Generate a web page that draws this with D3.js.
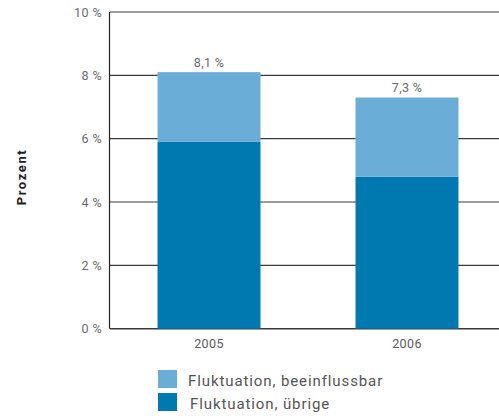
<!DOCTYPE html>
<html>
<head>
<meta charset="utf-8">
<script src="https://cdn.jsdelivr.net/npm/d3@7"></script>
<style>
  body { margin: 0; background: #fff; }
  text { font-family: Roboto, "DejaVu Sans", sans-serif; }
</style>
</head>
<body>
<script>
// data
var years = ["2005", "2006"];
var uebrige = [5.9, 4.8];
var beeinflussbar = [2.2, 2.5];
var totalLabels = ["8,1 %", "7,3 %"];
var yTicks = [0, 2, 4, 6, 8, 10];
var seriesNames = ["Fluktuation, beeinflussbar", "Fluktuation, übrige"];
var colors = ["#6aadd6", "#0079b1"];

var width = 499;
var height = 418;

var svg = d3.select("body")
            .append("svg")
            .attr("width", width)
            .attr("height", height);

var xScale = d3.scaleBand()
               .domain(years)
               .range([110, 506])
               .paddingInner(0.48)
               .paddingOuter(0.24);

var yScale = d3.scaleLinear()
               .domain([0, 10])
               .range([328.7, 12]);

// gridlines
svg.selectAll(".grid")
   .data(yTicks)
   .enter()
   .append("line")
   .attr("class", "grid")
   .attr("x1", 110)
   .attr("x2", width)
   .attr("y1", function(d) { return yScale(d); })
   .attr("y2", function(d) { return yScale(d); })
   .attr("stroke", "#3a3a3a")
   .attr("stroke-width", function(d) { return d === 0 ? 1.6 : 1.2; });

// y axis line
svg.append("line")
   .attr("x1", 109.5)
   .attr("x2", 109.5)
   .attr("y1", yScale(10))
   .attr("y2", yScale(0))
   .attr("stroke", "#222")
   .attr("stroke-width", 1.2);

// stacked bars
var stack = years.map(function(y, i) {
  return {year: y, low: uebrige[i], high: uebrige[i] + beeinflussbar[i], label: totalLabels[i]};
});

svg.selectAll(".bar-low")
   .data(stack)
   .enter()
   .append("rect")
   .attr("x", function(d) { return xScale(d.year); })
   .attr("width", xScale.bandwidth())
   .attr("y", function(d) { return yScale(d.low); })
   .attr("height", function(d) { return yScale(0) - yScale(d.low); })
   .attr("fill", colors[1]);

svg.selectAll(".bar-high")
   .data(stack)
   .enter()
   .append("rect")
   .attr("x", function(d) { return xScale(d.year); })
   .attr("width", xScale.bandwidth())
   .attr("y", function(d) { return yScale(d.high); })
   .attr("height", function(d) { return yScale(d.low) - yScale(d.high); })
   .attr("fill", colors[0]);

// value labels
svg.selectAll(".val")
   .data(stack)
   .enter()
   .append("text")
   .attr("x", function(d) { return xScale(d.year) + xScale.bandwidth() / 2; })
   .attr("y", function(d) { return yScale(d.high) - 5.5; })
   .attr("text-anchor", "middle")
   .attr("font-size", 12.5)
   .attr("letter-spacing", 0.3)
   .attr("fill", "#6a6a6a")
   .text(function(d) { return d.label; });

// y tick labels
svg.selectAll(".ytick")
   .data(yTicks)
   .enter()
   .append("text")
   .attr("x", 102)
   .attr("y", function(d) { return yScale(d) + 4.5; })
   .attr("text-anchor", "end")
   .attr("font-size", 12.5)
   .attr("letter-spacing", 0.4)
   .attr("fill", "#6a6a6a")
   .text(function(d) { return d + " %"; });

// x labels
svg.selectAll(".xtick")
   .data(years)
   .enter()
   .append("text")
   .attr("x", function(d) { return xScale(d) + xScale.bandwidth() / 2; })
   .attr("y", 348)
   .attr("text-anchor", "middle")
   .attr("font-size", 12.5)
   .attr("letter-spacing", 0.4)
   .attr("fill", "#5a5a5a")
   .text(function(d) { return d; });

// y axis title
svg.append("text")
   .attr("text-anchor", "middle")
   .attr("transform", "translate(26,177) rotate(-90)")
   .attr("font-size", 13)
   .attr("font-weight", "bold")
   .attr("letter-spacing", 1.6)
   .attr("fill", "#222")
   .text("Prozent");

// legend
var legend = svg.selectAll(".legend")
                .data(seriesNames)
                .enter()
                .append("g")
                .attr("class", "legend")
                .attr("transform", function(d, i) { return "translate(158," + (370 + i * 23) + ")"; });

legend.append("rect")
      .attr("width", 19)
      .attr("height", 18)
      .attr("fill", function(d, i) { return colors[i]; });

legend.append("text")
      .attr("x", function(d, i) { return 30 + i * 2; })
      .attr("y", 15.5)
      .attr("font-size", 15)
      .attr("letter-spacing", 0.9)
      .attr("fill", "#555")
      .text(function(d) { return d; });
</script>
</body>
</html>
